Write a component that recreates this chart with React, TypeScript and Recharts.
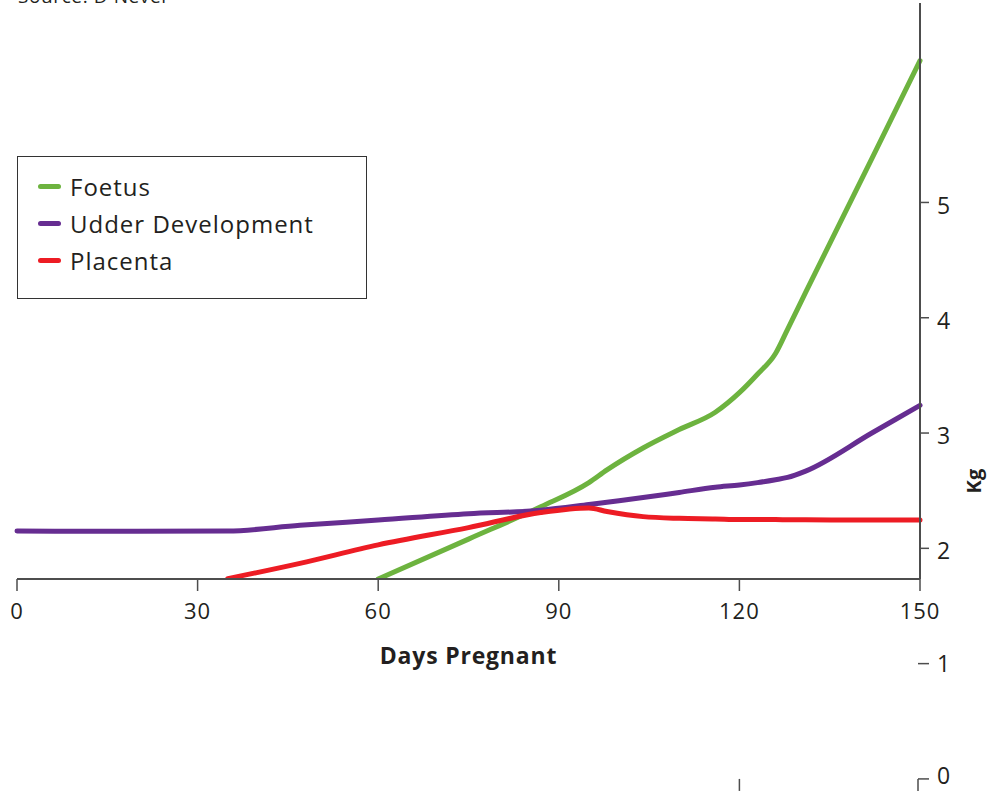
import React from "react";
import { Legend, Line, LineChart, XAxis, YAxis } from "recharts";

// days pregnant, shared by all three series
const days = [0, 10, 20, 35, 47, 60, 75, 87, 95, 98, 104, 110, 116, 120, 123, 126, 128, 131, 142, 150];
const foetus = [null, null, null, null, null, 1.734, 2.08, 2.36, 2.57, 2.68, 2.87, 3.03, 3.18, 3.35, 3.51, 3.69, 3.9, 4.22, 5.38, 6.23];
const udder = [2.15, 2.148, 2.148, 2.15, 2.2, 2.245, 2.3, 2.33, 2.38, 2.4, 2.44, 2.485, 2.53, 2.55, 2.57, 2.595, 2.615, 2.67, 3.0, 3.24];
const placenta = [null, null, null, 1.737, 1.87, 2.03, 2.18, 2.31, 2.35, 2.32, 2.275, 2.26, 2.255, 2.25, 2.25, 2.25, 2.248, 2.247, 2.245, 2.245];

const xTicks = [0, 30, 60, 90, 120, 150];
const yTicks = [2, 3, 4, 5];
const lowTicks = [1, 0];

const series = [
  { key: "foetus", name: "Foetus", color: "#6DB33F" },
  { key: "udder", name: "Udder Development", color: "#662D91" },
  { key: "placenta", name: "Placenta", color: "#ED1C24" },
];

const data = days.map((d, i) => ({
  day: d,
  foetus: foetus[i],
  udder: udder[i],
  placenta: placenta[i],
}));

const W = 993;
const H = 793;
const TOP = 3;
const LEFT = 17;
const RIGHT_AXIS = 73;
const BOTTOM = 214;
const Y_MIN = 1.734;
const Y_MAX = 6.73;
const PLOT_H = H - TOP - BOTTOM;
const PLOT_W = W - LEFT - RIGHT_AXIS;

const kgToY = (v: number) => TOP + ((Y_MAX - v) / (Y_MAX - Y_MIN)) * PLOT_H;
const dayToX = (d: number) => LEFT + (d / 150) * PLOT_W;

const ink = "#231f20";
const axisColor = "#4d4d4d";

function renderLegend() {
  return (
    <div
      style={{
        width: 350,
        height: 143,
        boxSizing: "border-box",
        border: "1.5px solid #333",
        background: "#fff",
        paddingTop: 11,
        paddingLeft: 20,
      }}
    >
      {series.map((s) => (
        <div key={s.key} style={{ display: "flex", alignItems: "center", height: 37 }}>
          <span
            style={{
              display: "inline-block",
              width: 23,
              height: 5,
              borderRadius: 3,
              background: s.color,
              marginRight: 9,
            }}
          />
          <span style={{ fontSize: 24, letterSpacing: 1, color: ink }}>{s.name}</span>
        </div>
      ))}
    </div>
  );
}

function KgLabel(props: any) {
  const vb = props.viewBox;
  const x = vb.x + 56;
  const y = vb.y + vb.height * 0.83;
  return (
    <text
      x={x}
      y={y}
      transform={`rotate(-90 ${x} ${y})`}
      textAnchor="middle"
      dominantBaseline="middle"
      fill={ink}
      fontSize={20}
      fontWeight={700}
    >
      Kg
    </text>
  );
}

export default function App() {
  const y0 = kgToY(0);
  return (
    <div style={{ position: "relative", width: W, height: H, overflow: "hidden", fontFamily: '"Open Sans", sans-serif' }}>
      <style>{`body{margin:0}`}</style>
      {/* source note, cut off at the top edge as in the original */}
      <div
        style={{
          position: "absolute",
          left: 18,
          top: -17,
          fontSize: 19,
          letterSpacing: 0.6,
          color: ink,
          whiteSpace: "nowrap",
        }}
      >
        Source: D Nevel
      </div>
      <LineChart width={W} height={H} data={data} margin={{ top: TOP, right: 0, left: LEFT, bottom: BOTTOM - 30 }}>
        <XAxis
          dataKey="day"
          type="number"
          domain={[0, 150]}
          ticks={xTicks}
          height={30}
          tickSize={12}
          tickMargin={12}
          axisLine={{ stroke: axisColor, strokeWidth: 2 }}
          tickLine={{ stroke: axisColor, strokeWidth: 1.5 }}
          tick={{ fill: ink, fontSize: 22, letterSpacing: 1 }}
          label={{ value: "Days Pregnant", position: "bottom", offset: 39, fill: ink, fontSize: 23, fontWeight: 700, letterSpacing: 0.8 }}
        />
        <YAxis
          orientation="right"
          width={RIGHT_AXIS}
          domain={[Y_MIN, Y_MAX]}
          allowDataOverflow
          ticks={yTicks}
          tickSize={9}
          tickMargin={8}
          axisLine={{ stroke: axisColor, strokeWidth: 2 }}
          tickLine={{ stroke: axisColor, strokeWidth: 1.5 }}
          tick={{ fill: ink, fontSize: 23, dy: 3 }}
          label={<KgLabel />}
        />
        <Legend
          layout="horizontal"
          verticalAlign="middle"
          align="center"
          content={renderLegend}
          wrapperStyle={{ position: "absolute", left: 17, top: 156, width: 350, height: 143 }}
        />
        {series.map((s) => (
          <Line
            key={s.key}
            type="monotone"
            dataKey={s.key}
            name={s.name}
            stroke={s.color}
            strokeWidth={5}
            strokeLinecap="round"
            dot={false}
            activeDot={false}
            connectNulls={false}
            isAnimationActive={false}
          />
        ))}
      </LineChart>
      <svg
        width={W}
        height={H}
        style={{ position: "absolute", left: 0, top: 0, pointerEvents: "none" }}
      >
        {lowTicks.map((v) => (
          <g key={v}>
            <line x1={PLOT_W + LEFT - 2} x2={PLOT_W + LEFT + 9} y1={kgToY(v)} y2={kgToY(v)} stroke={axisColor} strokeWidth={1.5} />
            <text x={PLOT_W + LEFT + 17} y={kgToY(v) + (v === 0 ? -1 : 2)} dominantBaseline="middle" fill={ink} fontSize={23}>
              {v}
            </text>
          </g>
        ))}
        <line x1={PLOT_W + LEFT - 2} x2={PLOT_W + LEFT - 2} y1={y0} y2={y0 + 12} stroke={axisColor} strokeWidth={1.5} />
        <line x1={dayToX(120)} x2={dayToX(120)} y1={y0} y2={y0 + 12} stroke={axisColor} strokeWidth={1.5} />
      </svg>
    </div>
  );
}
